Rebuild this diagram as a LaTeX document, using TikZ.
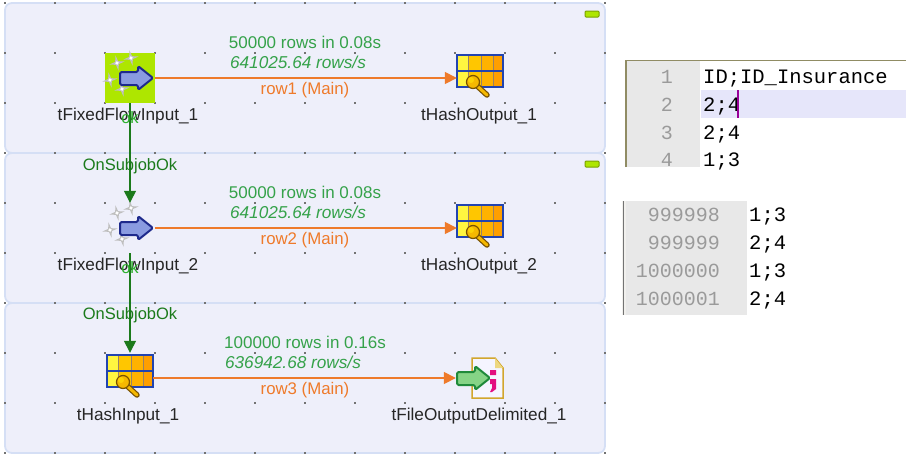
\documentclass[tikz,border=0pt]{standalone}
\usepackage{fontspec}
\setmainfont{Liberation Sans}
\setmonofont{Liberation Mono}
\usetikzlibrary{arrows.meta,calc}

% Define colors
\definecolor{panelcolor}{HTML}{EEEFFA}
\definecolor{edgecolor}{HTML}{D5DFF5}
\definecolor{limecolor}{HTML}{AEE600}
\definecolor{okcolor}{HTML}{1B7A1B}
\definecolor{smallokcolor}{HTML}{2CB02C}
\definecolor{statcolor}{HTML}{35A24A}
\definecolor{rowcolor}{HTML}{EE7A2A}
\definecolor{guttercolor}{HTML}{E8E8E8}
\definecolor{numcolor}{HTML}{9A9A9A}
\definecolor{curlinecolor}{HTML}{E6E6FA}
\definecolor{arrowblue}{HTML}{8A9BE0}
\definecolor{arrowedge}{HTML}{1E2A8C}
\definecolor{arrowgreen}{HTML}{86D486}
\definecolor{arrowgreenedge}{HTML}{1F8A3A}
\definecolor{tableedge}{HTML}{2244B0}
\definecolor{keygold}{HTML}{F5B800}
\definecolor{keyedge}{HTML}{7A5200}

\tikzset{
  panel/.style = {draw=edgecolor, line width=1.8pt, fill=panelcolor, rounded corners=7pt},
  griddot/.style = {fill=black!55},
  comp/.style = {inner sep=0pt, minimum width=#1},
  complabel/.style = {inner sep=0pt, text=black!85, font=\fontsize{17.2}{18}\selectfont},
  stat/.style = {inner sep=0pt, text=statcolor, font=\fontsize{17}{18}\selectfont},
  rate/.style = {stat, font=\fontsize{17.2}{18}\selectfont\itshape},
  rowlabel/.style = {inner sep=0pt, text=rowcolor, font=\fontsize{16.8}{18}\selectfont},
  oklabel/.style = {inner sep=0pt, text=okcolor, font=\fontsize{16.5}{18}\selectfont},
  mainlink/.style = {draw=rowcolor, line width=1.6pt, -{Triangle[length=12pt,width=12pt]}},
  oklink/.style = {draw=okcolor, line width=1.3pt, -{Triangle[length=12pt,width=12pt]}},
  minbutton/.style = {draw=limecolor!70!black, fill=limecolor, rounded corners=1pt,
    line width=1pt, inner sep=0pt, minimum width=14pt, minimum height=6pt},
  codetext/.style = {inner sep=0pt, anchor=base west, font=\fontsize{20.5}{22}\selectfont\ttfamily},
  linenum/.style = {inner sep=0pt, anchor=base east, text=numcolor, font=\fontsize{20}{22}\selectfont\ttfamily},
  sparkle/.pic = {
    \fill[pic actions, rotate=12] (-8,0) -- (-1.5,-1.5) -- (0,-8) -- (1.5,-1.5) -- (8,0)
      -- (1.5,1.5) -- (0,8) -- (-1.5,1.5) -- cycle;
    \fill[white, rotate=12] (0,0) circle (1.8);
  },
  flowarrow/.pic = {
    \draw[pic actions, line width=2pt, rounded corners=1.5pt, line join=round]
      (-16,-6) -- (2,-6) -- (2,-12) -- (17,0) -- (2,12) -- (2,7) -- (-16,7) -- cycle;
  },
  hashicon/.pic = {
    \fill[yellow!75!white] (-23,-23) rectangle (-12,9);
    \fill[orange!45!yellow] (-12,-23) rectangle (1,9);
    \fill[orange!60!yellow] (1,-23) rectangle (13,9);
    \fill[orange!75!yellow] (13,-23) rectangle (23,9);
    \draw[gray!80!orange] (-12,-23) -- (-12,9) (1,-23) -- (1,9) (13,-23) -- (13,9);
    \draw[tableedge, line width=1.3pt] (-23,-23) rectangle (23,9) (-23,-7) -- (23,-7);
    % key
    \draw[keyedge, line width=5.5pt, line cap=round] (-5,6) -- (7,17);
    \draw[keygold, line width=3pt, line cap=round] (-5,6) -- (7,17);
    \draw[keyedge, fill=keygold, line width=1.2pt] (-7,4) circle (6.5);
    \fill[yellow!70!orange] (-9,2) circle (3);
  },
  fileicon/.pic = {
    \draw[draw=brown!70!yellow, fill=blue!4, line width=1.5pt]
      (-8,-20) -- (15,-20) -- (23,-10) -- (23,20) -- (-8,20) -- cycle;
    \fill[yellow!50!brown!60] (15,-20) -- (23,-10) -- (15,-10) -- cycle;
    \fill[magenta!80!purple] (10,-8) rectangle (16,-3) (10,1) rectangle (16,6);
    \fill[magenta!80!purple] (16,6) -- (16,11) -- (12,14) -- (10,14) -- (12,10) -- (12,6) -- cycle;
  },
}

\begin{document}
\begin{tikzpicture}[x=1pt, y=-1pt]
\useasboundingbox (0,0) rectangle (908,456);

%%%%%%%%%%% PANELS
  \draw[panel] (5,3) rectangle (605,153);
  \draw[panel] (5,153) rectangle (605,303);
  \draw[panel] (5,303) rectangle (605,453);
  \foreach \x in {5,55,...,605}
    \foreach \y in {3,53,...,453}
      \fill[griddot] (\x-0.8,\y-0.8) rectangle (\x+0.8,\y+0.8);
  \node[minbutton] (min1) at (592,14) {};
  \node[minbutton] (min2) at (592,164) {};

%%%%%%%%%%% COMPONENTS
  \node[comp=50pt, minimum height=50pt, fill=limecolor] (fixed1) at (130,78) {};
  \node[comp=50pt, minimum height=50pt] (fixed2) at (130,228) {};
  \node[comp=46pt, minimum height=50pt] (hashout1) at (480,78) {};
  \node[comp=46pt, minimum height=50pt] (hashout2) at (480,228) {};
  \node[comp=46pt, minimum height=50pt] (hashin) at (130,378) {};
  \node[comp=48pt, minimum height=42pt] (fileout) at (480,378) {};

  \foreach \f in {fixed1,fixed2} {
    \pic[fill=black!25] at ($(\f)+(-13,-15)$) {sparkle};
    \pic[fill=black!25] at ($(\f)+(1,-20)$) {sparkle};
    \pic[fill=black!25] at ($(\f)+(-20,2)$) {sparkle};
    \pic[fill=black!25] at ($(\f)+(-8,11)$) {sparkle};
    \pic[draw=arrowedge, fill=arrowblue] at ($(\f)+(6,0)$) {flowarrow};
  }
  \pic at (hashout1) {hashicon};
  \pic at (hashout2) {hashicon};
  \pic at (hashin) {hashicon};
  \pic at (fileout) {fileicon};
  \pic[draw=arrowgreenedge, fill=arrowgreen] at ($(fileout)+(-7,0)$) {flowarrow};

%%%%%%%%%%% LABELS
  \node[complabel] (lfixed1) at (128,116) {tFixedFlowInput\_1};
  \node[complabel] (lfixed2) at (128,266) {tFixedFlowInput\_2};
  \node[complabel] (lhashout1) at (479,116) {tHashOutput\_1};
  \node[complabel] (lhashout2) at (479,266) {tHashOutput\_2};
  \node[complabel] (lhashin) at (128,416) {tHashInput\_1};
  \node[complabel] (lfileout) at (479,416) {tFileOutputDelimited\_1};

  \node[stat] (stat1) at (305,42) {50000 rows in 0.08s};
  \node[rate] (rate1) at (298,62) {641025.64 rows/s};
  \node[rowlabel] (lrow1) at (305,90.5) {row1 (Main)};
  \node[stat] (stat2) at (305,192) {50000 rows in 0.08s};
  \node[rate] (rate2) at (298,212) {641025.64 rows/s};
  \node[rowlabel] (lrow2) at (305,240.5) {row2 (Main)};
  \node[stat] (stat3) at (305,342) {100000 rows in 0.16s};
  \node[rate] (rate3) at (293,362) {636942.68 rows/s};
  \node[rowlabel] (lrow3) at (305,390.5) {row3 (Main)};

%%%%%%%%%%% CONNECTIONS
  \draw[mainlink] (fixed1) -- (hashout1);
  \draw[mainlink] (fixed2) -- (hashout2);
  \draw[mainlink] (hashin) -- (fileout);
  \draw[oklink] (fixed1) -- (fixed2);
  \draw[oklink] (fixed2) -- (hashin);
  \node[oklabel, text=smallokcolor] (ok1) at (130,118) {ok};
  \node[oklabel, text=smallokcolor] (ok2) at (130,268) {ok};
  \node[oklabel] (onok1) at (130,166) {OnSubjobOk};
  \node[oklabel] (onok2) at (130,315) {OnSubjobOk};

%%%%%%%%%%% FIRST EDITOR
  \fill[guttercolor] (627,61) rectangle (700,167);
  \fill[curlinecolor] (701,90) rectangle (906,118);
  \draw[black!50!yellow!60!gray, line width=1.5pt] (626,167) -- (626,60.5) -- (906,60.5);
  \foreach \n/\y/\t in {1/83/{ID;ID\_Insurance},2/111/{2;4},3/139/{2;4},4/166/{1;3}} {
    \node[linenum] (num\n) at (673,\y) {\n};
    \node[codetext] (code\n) at (703,\y) {\t};
  }
  \fill[violet!80!magenta] (736.5,90) rectangle (738.5,118);

%%%%%%%%%%% SECOND EDITOR
  \fill[yellow!20!black!8] (622,201) rectangle (626,315);
  \draw[black!55, line width=1pt] (623,201) -- (623,315);
  \fill[guttercolor] (626,201) rectangle (747,315);
  \foreach \n/\y/\t in {999998/221/{1;3},999999/249/{2;4},1000000/277/{1;3},1000001/305/{2;4}} {
    \node[linenum] (num\n) at (720,\y) {\n};
    \node[codetext] (code\n) at (749,\y) {\t};
  }
\end{tikzpicture}
\end{document}
